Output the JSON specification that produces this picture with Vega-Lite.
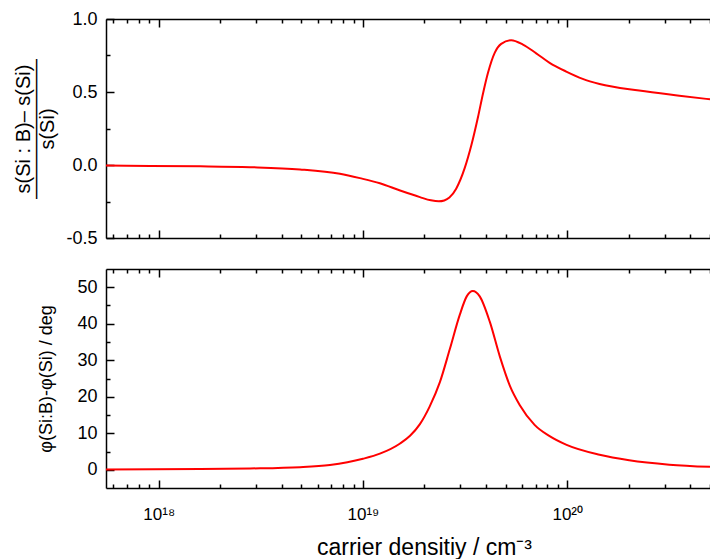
{
  "$schema": "https://vega.github.io/schema/vega-lite/v6.json",
  "padding": {"left": 13, "top": 10, "right": 0, "bottom": 0},
  "bounds": "flush",
  "spacing": 31,
  "config": {
    "view": {"stroke": null},
    "font": "Liberation Sans",
    "axis": {
      "domainColor": "black", "domainWidth": 1.5, "tickColor": "black", "tickWidth": 1.5,
      "labelColor": "black", "titleColor": "black", "labelFont": "Liberation Sans", "titleFont": "Liberation Sans",
      "labelFontSize": 18, "titleFontSize": 19, "titleFontWeight": "normal", "grid": false
    }
  },
  "datasets": {
    "s": [
      {"n": 5.52e17, "ds": -0.004}, {"n": 9.08e17, "ds": -0.006}, {"n": 1.6e18, "ds": -0.009},
      {"n": 2.8e18, "ds": -0.015}, {"n": 4.92e18, "ds": -0.03}, {"n": 7.71e18, "ds": -0.06},
      {"n": 9.66e18, "ds": -0.09}, {"n": 1.21e19, "ds": -0.125}, {"n": 1.52e19, "ds": -0.175},
      {"n": 1.9e19, "ds": -0.22}, {"n": 2.15e19, "ds": -0.242}, {"n": 2.35e19, "ds": -0.249},
      {"n": 2.5e19, "ds": -0.243}, {"n": 2.65e19, "ds": -0.223},
      {"n": 2.86e19, "ds": -0.162}, {"n": 3.15e19, "ds": -0.02}, {"n": 3.4e19, "ds": 0.14},
      {"n": 3.66e19, "ds": 0.33}, {"n": 3.87e19, "ds": 0.49}, {"n": 4.09e19, "ds": 0.63},
      {"n": 4.42e19, "ds": 0.77}, {"n": 4.75e19, "ds": 0.83}, {"n": 5.32e19, "ds": 0.855},
      {"n": 6.07e19, "ds": 0.825}, {"n": 7.05e19, "ds": 0.765}, {"n": 8.2e19, "ds": 0.7},
      {"n": 9.89e19, "ds": 0.64}, {"n": 1.19e20, "ds": 0.59}, {"n": 1.44e20, "ds": 0.555},
      {"n": 2.25e20, "ds": 0.51}, {"n": 3.54e20, "ds": 0.475}, {"n": 5e20, "ds": 0.45}
    ],
    "phi": [
      {"n": 5.52e17, "dphi": 0.1}, {"n": 1.6e18, "dphi": 0.2}, {"n": 2.8e18, "dphi": 0.35},
      {"n": 4.92e18, "dphi": 0.7}, {"n": 6.89e18, "dphi": 1.3}, {"n": 1e19, "dphi": 3.0},
      {"n": 1.21e19, "dphi": 4.4}, {"n": 1.52e19, "dphi": 7.2}, {"n": 1.7e19, "dphi": 9.3},
      {"n": 1.9e19, "dphi": 12.5}, {"n": 2.12e19, "dphi": 17.3}, {"n": 2.38e19, "dphi": 24},
      {"n": 2.66e19, "dphi": 33}, {"n": 2.98e19, "dphi": 42.5}, {"n": 3.22e19, "dphi": 47.5},
      {"n": 3.45e19, "dphi": 49}, {"n": 3.73e19, "dphi": 47.5}, {"n": 4.18e19, "dphi": 40.5},
      {"n": 4.68e19, "dphi": 31}, {"n": 5.24e19, "dphi": 23}, {"n": 5.86e19, "dphi": 17.7},
      {"n": 6.92e19, "dphi": 12.3}, {"n": 8.2e19, "dphi": 9.2}, {"n": 9.93e19, "dphi": 6.8},
      {"n": 1.44e20, "dphi": 4.1}, {"n": 2.01e20, "dphi": 2.6}, {"n": 3.16e20, "dphi": 1.4},
      {"n": 5e20, "dphi": 0.8}
    ]
  },
  "vconcat": [
    {
      "width": 604, "height": 219,
      "data": {"name": "s"},
      "layer": [
        {
          "mark": {"type": "line", "color": "#ff0000", "strokeWidth": 2, "interpolate": "monotone", "clip": true},
          "encoding": {
            "x": {"field": "n", "type": "quantitative",
              "scale": {"type": "log", "domain": [5.52e17, 5e20], "nice": false},
              "axis": {"orient": "bottom", "labels": false, "title": null,
                "values": [6e17,7e17,8e17,9e17,1e18,2e18,3e18,4e18,5e18,6e18,7e18,8e18,9e18,1e19,2e19,3e19,4e19,5e19,6e19,7e19,8e19,9e19,1e20,2e20,3e20,4e20,5e20],
                "tickSize": {"condition": {"test": "datum.value == 1e18 || datum.value == 1e19 || datum.value == 1e20", "value": -8}, "value": -4}}},
            "y": {"field": "ds", "type": "quantitative",
              "scale": {"domain": [-0.5, 1.0], "nice": false, "zero": false},
              "axis": {"values": [-0.5, -0.25, 0, 0.25, 0.5, 0.75, 1.0],
                "tickSize": {"condition": {"test": "abs(datum.value*2 - round(datum.value*2)) < 0.01", "value": -8}, "value": -4},
                "labelPadding": 17,
                "labelExpr": "abs(datum.value*2 - round(datum.value*2)) < 0.01 ? (datum.value < 0 ? '-' : '') + format(abs(datum.value), '.1f') : ''",
                "title": ["s(Si : B)– s(Si)", "———————", "s(Si)"],
                "titleFontSize": 20, "titleLineHeight": 12, "titlePadding": 8}}
          }
        },
        {
          "mark": {"type": "line", "strokeOpacity": 0},
          "encoding": {
            "x": {"field": "n", "type": "quantitative",
              "axis": {"orient": "top", "labels": false, "title": null,
                "values": [6e17,7e17,8e17,9e17,1e18,2e18,3e18,4e18,5e18,6e18,7e18,8e18,9e18,1e19,2e19,3e19,4e19,5e19,6e19,7e19,8e19,9e19,1e20,2e20,3e20,4e20,5e20],
                "tickSize": {"condition": {"test": "datum.value == 1e18 || datum.value == 1e19 || datum.value == 1e20", "value": -8}, "value": -4}}},
            "y": {"field": "ds", "type": "quantitative", "axis": null}
          }
        }
      ],
      "resolve": {"axis": {"x": "independent", "y": "independent"}}
    },
    {
      "width": 604, "height": 219,
      "data": {"name": "phi"},
      "layer": [
        {
          "mark": {"type": "line", "color": "#ff0000", "strokeWidth": 2, "interpolate": "monotone", "clip": true},
          "encoding": {
            "x": {"field": "n", "type": "quantitative",
              "scale": {"type": "log", "domain": [5.52e17, 5e20], "nice": false},
              "axis": {"orient": "bottom",
                "values": [6e17,7e17,8e17,9e17,1e18,2e18,3e18,4e18,5e18,6e18,7e18,8e18,9e18,1e19,2e19,3e19,4e19,5e19,6e19,7e19,8e19,9e19,1e20,2e20,3e20,4e20,5e20],
                "tickSize": {"condition": {"test": "datum.value == 1e18 || datum.value == 1e19 || datum.value == 1e20", "value": -8}, "value": -4},
                "labelExpr": "datum.value == 1e18 ? '10¹⁸' : datum.value == 1e19 ? '10¹⁹' : datum.value == 1e20 ? '10²⁰' : ''",
                "labelPadding": 26, "labelOverlap": false, "labelFontSize": 17,
                "title": "carrier densitiy / cm⁻³", "titleFontSize": 23, "titlePadding": 10, "titleX": 318}},
            "y": {"field": "dphi", "type": "quantitative",
              "scale": {"domain": [-5, 55], "nice": false, "zero": false},
              "axis": {"values": [0, 5, 10, 15, 20, 25, 30, 35, 40, 45, 50],
                "tickSize": {"condition": {"test": "datum.value % 10 == 0", "value": -8}, "value": -4},
                "labelPadding": 17,
                "labelExpr": "datum.value % 10 == 0 ? format(datum.value, 'd') : ''",
                "title": "φ(Si:B)-φ(Si) / deg", "titleFontSize": 18, "titlePadding": 21}}
          }
        },
        {
          "mark": {"type": "line", "strokeOpacity": 0},
          "encoding": {
            "x": {"field": "n", "type": "quantitative",
              "axis": {"orient": "top", "labels": false, "title": null,
                "values": [6e17,7e17,8e17,9e17,1e18,2e18,3e18,4e18,5e18,6e18,7e18,8e18,9e18,1e19,2e19,3e19,4e19,5e19,6e19,7e19,8e19,9e19,1e20,2e20,3e20,4e20,5e20],
                "tickSize": {"condition": {"test": "datum.value == 1e18 || datum.value == 1e19 || datum.value == 1e20", "value": -8}, "value": -4}}},
            "y": {"field": "dphi", "type": "quantitative", "axis": null}
          }
        }
      ],
      "resolve": {"axis": {"x": "independent", "y": "independent"}}
    }
  ]
}
